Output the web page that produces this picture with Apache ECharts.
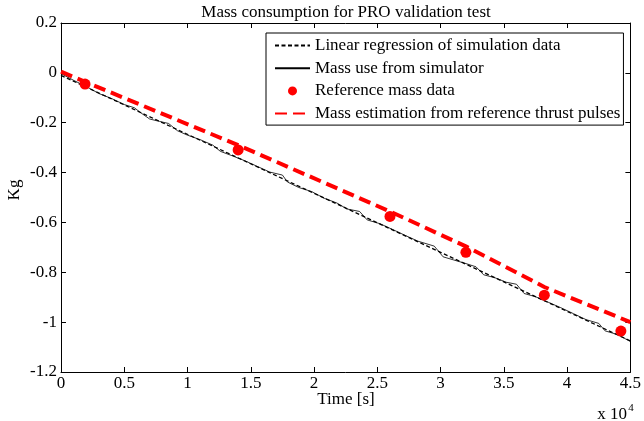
<!DOCTYPE html>
<html>
<head>
<meta charset="utf-8">
<script src="https://cdn.jsdelivr.net/npm/echarts@6/dist/echarts.min.js"></script>
<style>
  html, body { margin: 0; padding: 0; background: #fff; }
  #chart { width: 644px; height: 421px; }
</style>
</head>
<body>
<div id="chart"></div>
<script>
// time [s] and mass [kg]
const regressionTime = [0, 45000]
const regressionMass = [-0.01, -1.075]

const simTime = [0, 1000, 2000, 3000, 4000, 5000, 5800, 6300, 7000, 7800, 8500, 9200, 10000,
  11000, 12000, 12600, 13500, 14500, 15500, 16500, 17500, 17900, 18800, 19800, 20800, 21800,
  22600, 23600, 24200, 25200, 26200, 27200, 28200, 29500, 30200, 31000, 32000, 32800, 33400,
  34300, 35200, 36000, 36600, 37500, 38500, 39500, 40500, 41500, 42500, 43000, 44000, 45000]
const simMass = [-0.003, -0.030, -0.055, -0.083, -0.103, -0.127, -0.140, -0.160, -0.185, -0.195,
  -0.203, -0.232, -0.250, -0.268, -0.290, -0.315, -0.332, -0.352, -0.375, -0.398, -0.410, -0.438,
  -0.460, -0.476, -0.503, -0.522, -0.546, -0.556, -0.590, -0.605, -0.628, -0.652, -0.675, -0.695,
  -0.738, -0.750, -0.765, -0.778, -0.810, -0.822, -0.840, -0.848, -0.885, -0.898, -0.920, -0.942,
  -0.966, -0.990, -1.005, -1.035, -1.050, -1.078]

const refTime = [1900, 14000, 26000, 32000, 38200, 44250]
const refMass = [-0.045, -0.309, -0.576, -0.720, -0.892, -1.036]

const pulseTime = [0, 2000, 14000, 26000, 32000, 38200, 45000]
const pulseMass = [0.005, -0.038, -0.290, -0.556, -0.696, -0.859, -1.0]

const xTicks = ['0', '0.5', '1', '1.5', '2', '2.5', '3', '3.5', '4', '4.5']

const font = 'Liberation Serif'
const pair = (xs, ys) => xs.map((x, i) => [x, ys[i]])
const noDot = 'rgba(0,0,0,0)' // hides the marker ECharts puts on line legend icons

const chart = echarts.init(document.getElementById('chart'))

const tickCfg = { show: true, inside: true, length: 5, lineStyle: { color: '#000', width: 1 } }
const lineCfg = { show: true, onZero: false, lineStyle: { color: '#000', width: 1 } }

chart.setOption({
  animation: false,
  backgroundColor: '#fff',
  grid: { left: 61, right: 13, top: 23, bottom: 49, containLabel: false },
  xAxis: [{
    type: 'value', min: 0, max: 45000, interval: 5000,
    axisLine: lineCfg, axisTick: tickCfg, splitLine: { show: false },
    axisLabel: {
      margin: 3, color: '#000', fontFamily: font, fontSize: 17,
      formatter: (v) => xTicks[Math.round(v / 5000)]
    }
  }, {
    type: 'value', position: 'top', min: 0, max: 45000, interval: 5000,
    axisLine: lineCfg, axisTick: tickCfg, splitLine: { show: false }, axisLabel: { show: false }
  }],
  yAxis: [{
    type: 'value', min: -1.2, max: 0.2, interval: 0.2,
    axisLine: lineCfg, axisTick: tickCfg, splitLine: { show: false },
    axisLabel: {
      margin: 4, color: '#000', fontFamily: font, fontSize: 17,
      formatter: (v) => String(+v.toFixed(1))
    }
  }, {
    type: 'value', position: 'right', min: -1.2, max: 0.2, interval: 0.2,
    axisLine: lineCfg, axisTick: tickCfg, splitLine: { show: false }, axisLabel: { show: false }
  }],
  legend: {
    orient: 'vertical',
    left: 266, top: 33,
    padding: [4, 3, 3, 8],
    backgroundColor: '#fff',
    borderColor: '#000', borderWidth: 1,
    itemWidth: 35, itemHeight: 9, itemGap: 5.7,
    textStyle: { color: '#000', fontFamily: font, fontSize: 17, lineHeight: 17 },
    data: ['Linear regression of simulation data', 'Mass use from simulator',
      'Reference mass data', 'Mass estimation from reference thrust pulses']
  },
  series: [{
    name: 'Mass use from simulator',
    type: 'line', symbol: 'none', z: 2,
    lineStyle: { color: '#000', width: 0.8 },
    itemStyle: { color: noDot },
    data: pair(simTime, simMass)
  }, {
    name: 'Linear regression of simulation data',
    type: 'line', symbol: 'none', z: 3,
    lineStyle: { color: '#000', width: 1.3, type: [4, 2.5] },
    itemStyle: { color: noDot },
    data: pair(regressionTime, regressionMass)
  }, {
    name: 'Mass estimation from reference thrust pulses',
    type: 'line', symbol: 'none', z: 4,
    lineStyle: { color: '#ff0000', width: 4, type: [12, 6] },
    itemStyle: { color: noDot },
    data: pair(pulseTime, pulseMass)
  }, {
    name: 'Reference mass data',
    type: 'scatter', symbol: 'circle', symbolSize: 11, z: 5,
    itemStyle: { color: '#ff0000', opacity: 1 },
    data: pair(refTime, refMass)
  }],
  graphic: [{
    type: 'text', x: 346, y: 13,
    style: { text: 'Mass consumption for PRO validation test', font: '17px "Liberation Serif"',
      fill: '#000', textAlign: 'center', textVerticalAlign: 'middle' }
  }, {
    type: 'text', x: 346, y: 400,
    style: { text: 'Time [s]', font: '17px "Liberation Serif"',
      fill: '#000', textAlign: 'center', textVerticalAlign: 'middle' }
  }, {
    type: 'text', x: 15, y: 190, rotation: Math.PI / 2,
    style: { text: 'Kg', font: '17px "Liberation Serif"',
      fill: '#000', textAlign: 'center', textVerticalAlign: 'middle' }
  }, {
    type: 'text', x: 612, y: 415,
    style: { text: 'x 10', font: '17px "Liberation Serif"',
      fill: '#000', textAlign: 'center', textVerticalAlign: 'middle' }
  }, {
    type: 'text', x: 631, y: 408,
    style: { text: '4', font: '11px "Liberation Serif"',
      fill: '#000', textAlign: 'center', textVerticalAlign: 'middle' }
  }]
})
</script>
</body>
</html>
